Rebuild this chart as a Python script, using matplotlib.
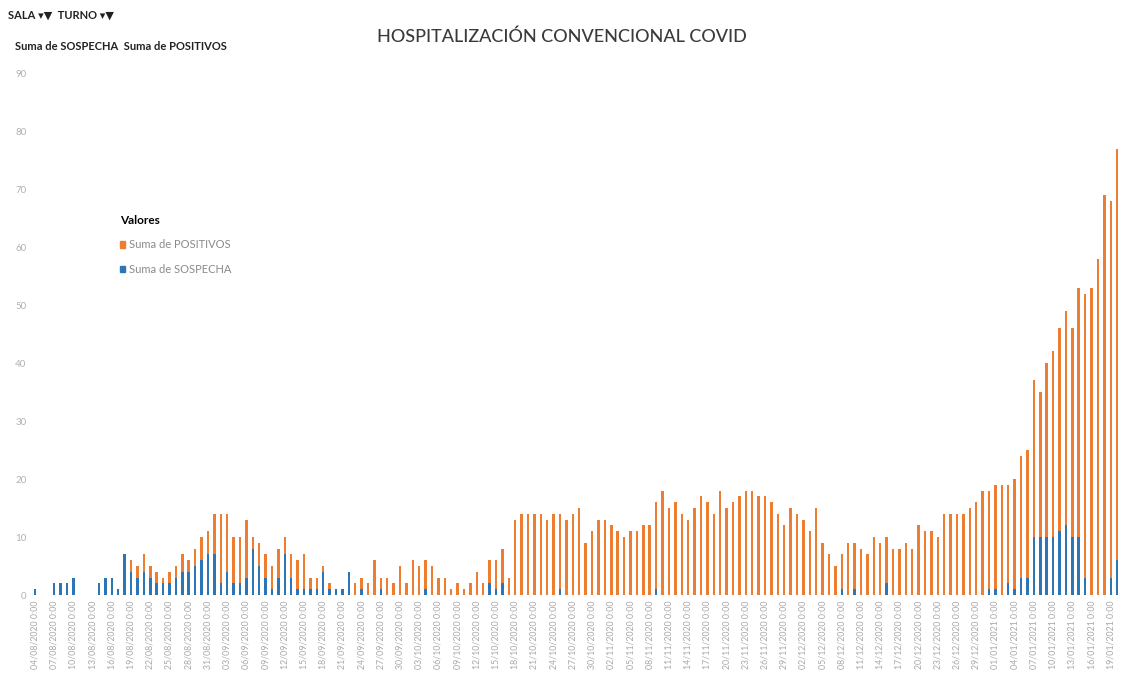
import matplotlib
matplotlib.use("Agg")
import matplotlib.pyplot as plt
import numpy as np
import pandas as pd
from matplotlib.patches import Patch

# daily values (beds), blue at bottom, orange stacked on top
sospecha = [
    1, 0, 0, 2, 2, 2, 3, 0, 0, 0, 2, 3, 3, 1, 7, 4, 3, 4, 3, 2,
    2, 2, 3, 4, 4, 5, 6, 7, 7, 2, 4, 2, 2, 3, 8, 5, 3, 1, 3, 7,
    3, 1, 1, 1, 1, 4, 1, 1, 1, 4, 0, 1, 0, 0, 1, 0, 0, 0, 0, 0,
    0, 1, 0, 0, 0, 0, 0, 0, 0, 0, 0, 2, 1, 2, 0, 0, 0, 0, 0, 0,
    0, 0, 1, 0, 0, 0, 0, 0, 0, 0, 0, 0, 0, 0, 0, 0, 0, 1, 0, 0,
    0, 0, 0, 0, 0, 0, 0, 0, 0, 0, 0, 0, 0, 0, 0, 0, 0, 0, 0, 0,
    0, 0, 0, 0, 0, 0, 1, 0, 1, 0, 0, 0, 0, 2, 0, 0, 0, 0, 0, 0,
    0, 0, 0, 0, 0, 0, 0, 0, 0, 1, 1, 0, 2, 1, 3, 3, 10, 10, 10, 10,
    11, 12, 10, 10, 3, 0, 0, 0, 3, 6,
]
positivos = [
    0, 0, 0, 0, 0, 0, 0, 0, 0, 0, 0, 0, 0, 0, 0, 2, 2, 3, 2, 2,
    1, 2, 2, 3, 2, 3, 4, 4, 7, 12, 10, 8, 8, 10, 2, 4, 4, 4, 5, 3,
    4, 5, 6, 2, 2, 1, 1, 0, 0, 0, 2, 2, 2, 6, 2, 3, 2, 5, 2, 6,
    5, 5, 5, 3, 3, 1, 2, 1, 2, 4, 2, 4, 5, 6, 3, 13, 14, 14, 14, 14,
    13, 14, 13, 13, 14, 15, 9, 11, 13, 13, 12, 11, 10, 11, 11, 12, 12, 15, 18, 15,
    16, 14, 13, 15, 17, 16, 14, 18, 15, 16, 17, 18, 18, 17, 17, 16, 14, 12, 15, 14,
    13, 11, 15, 9, 7, 5, 6, 9, 8, 8, 7, 10, 9, 8, 8, 8, 9, 8, 12, 11,
    11, 10, 14, 14, 14, 14, 15, 16, 18, 17, 18, 19, 17, 19, 21, 22, 27, 25, 30, 32,
    35, 37, 36, 43, 49, 53, 58, 69, 65, 71,
]
start_date = "2020-08-04"
date_labels = [d.strftime("%d/%m/%Y 0:00") for d in pd.date_range(start_date, periods=len(sospecha))]
y_ticks = [0, 10, 20, 30, 40, 50, 60, 70, 80, 90]

BLUE = "#2e75b6"
ORANGE = "#ed7d31"

plt.rcParams["font.family"] = ["Lato", "DejaVu Sans"]

fig = plt.figure(figsize=(11.21, 6.77), dpi=100)
ax = fig.add_axes([0.0284, 0.121, 0.971, 0.771])

x = np.arange(len(sospecha))
ax.bar(x, sospecha, width=0.38, color=BLUE, label="Suma de SOSPECHA")
ax.bar(x, positivos, width=0.38, bottom=sospecha, color=ORANGE, label="Suma de POSITIVOS")

ax.set_xlim(-0.5, len(x) - 0.5)
ax.set_ylim(0, 90)
ax.set_yticks(y_ticks)
ax.set_yticklabels([str(v) for v in y_ticks], fontsize=7, color="#b0b0b0")
ax.set_xticks(x[::3])
ax.set_xticklabels(date_labels[::3], rotation=90, fontsize=6.3, color="#a8a8a8")
ax.tick_params(length=0, pad=4)
for spine in ax.spines.values():
    spine.set_visible(False)

fig.text(0.501, 0.945, "HOSPITALIZACIÓN CONVENCIONAL COVID", ha="center", va="center",
         fontsize=13, color="#3a3a3a", fontweight="medium")
fig.text(0.007, 0.978, "SALA ▾▼  TURNO ▾▼", ha="left", va="center", fontsize=8,
         fontweight="bold", color="#222222")
fig.text(0.013, 0.932, "Suma de SOSPECHA  Suma de POSITIVOS", ha="left", va="center",
         fontsize=8, fontweight="bold", color="#222222")

handles = [Patch(color=ORANGE, label="Suma de POSITIVOS"),
           Patch(color=BLUE, label="Suma de SOSPECHA")]
leg = fig.legend(handles=handles, title="Valores", loc="upper left",
                 bbox_to_anchor=(0.098, 0.697), frameon=False, fontsize=8,
                 handlelength=0.5, handleheight=0.5, handletextpad=0.3,
                 labelspacing=1.2, alignment="left")
leg.get_title().set_fontweight("bold")
leg.get_title().set_fontsize(8.5)
for t in leg.get_texts():
    t.set_color("#8a8a8a")

fig.savefig("out.png", dpi=100)
